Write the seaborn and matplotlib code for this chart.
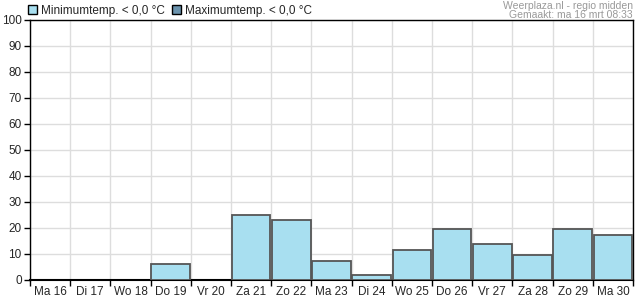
import matplotlib
matplotlib.use("Agg")
import matplotlib.pyplot as plt
import seaborn as sns
import pandas as pd
from matplotlib.patches import Patch

days = ["Ma 16", "Di 17", "Wo 18", "Do 19", "Vr 20", "Za 21", "Zo 22", "Ma 23",
        "Di 24", "Wo 25", "Do 26", "Vr 27", "Za 28", "Zo 29", "Ma 30"]
min_below_zero = [0, 0, 0, 6, 0, 25, 23, 7.5, 2, 11.5, 19.5, 14, 9.5, 19.5, 17.5]
max_below_zero = [0, 0, 0, 0, 0, 0, 0, 0, 0, 0, 0, 0, 0, 0, 0]
y_ticks = list(range(0, 101, 10))

df = pd.DataFrame({"dag": days, "min": min_below_zero, "max": max_below_zero})
df_plot = df[df["min"] > 0]

sns.set_theme(style="white")
plt.rcParams['font.family'] = ['Liberation Sans', 'DejaVu Sans']

fig = plt.figure(figsize=(6.35, 3.0), dpi=100)
ax = fig.add_axes([30/635, 20/300, 603/635, 260/300])

sns.barplot(data=df_plot, x="dag", y="min", order=days, color="#a8dff0", saturation=1,
            width=0.96, edgecolor="#555555", linewidth=1.3, ax=ax, zorder=3)

ax.set_xlim(-0.5, len(days) - 0.5)
ax.set_ylim(0, 100)
ax.set_yticks(y_ticks)
ax.set_yticklabels([str(v) for v in y_ticks], fontsize=8.5)
ax.set_xticks(range(len(days)))
ax.set_xticklabels(days, fontsize=8.5)
ax.set_xticks([i - 0.5 for i in range(len(days) + 1)], minor=True)
ax.tick_params(axis="x", which="major", length=0, pad=4)
ax.tick_params(axis="x", which="minor", length=4, width=1, color="black", bottom=True)
ax.tick_params(axis="y", which="major", length=4, width=1, color="black", left=True, pad=2)
ax.set_xlabel("")
ax.set_ylabel("")
ax.grid(False)
ax.xaxis.grid(True, which="minor", color="#dddddd", linewidth=1, zorder=0)
ax.yaxis.grid(True, which="major", color="#dddddd", linewidth=1, zorder=0)
ax.set_axisbelow(True)
for s in ax.spines.values():
    s.set_color("black")
    s.set_linewidth(1)
ax.spines["bottom"].set_linewidth(1.5)

handles = [Patch(facecolor="#a8dff0", edgecolor="black", label="Minimumtemp. < 0,0 °C"),
           Patch(facecolor="#6b93ad", edgecolor="black", label="Maximumtemp. < 0,0 °C")]
fig.legend(handles=handles, loc="center left", bbox_to_anchor=(28/635, 1 - 11/300), ncol=2,
           frameon=False, fontsize=8.5, handlelength=0.8, handleheight=0.8,
           handletextpad=0.3, columnspacing=0.6, borderaxespad=0, borderpad=0)

fig.text(0.997, 1 - 1/300, "Weerplaza.nl - regio midden", ha="right", va="top",
         fontsize=7.5, color="#999999")
fig.text(0.997, 1 - 10/300, "Gemaakt: ma 16 mrt 08:33", ha="right", va="top",
         fontsize=7.5, color="#999999")

fig.savefig("out.png", dpi=100)
